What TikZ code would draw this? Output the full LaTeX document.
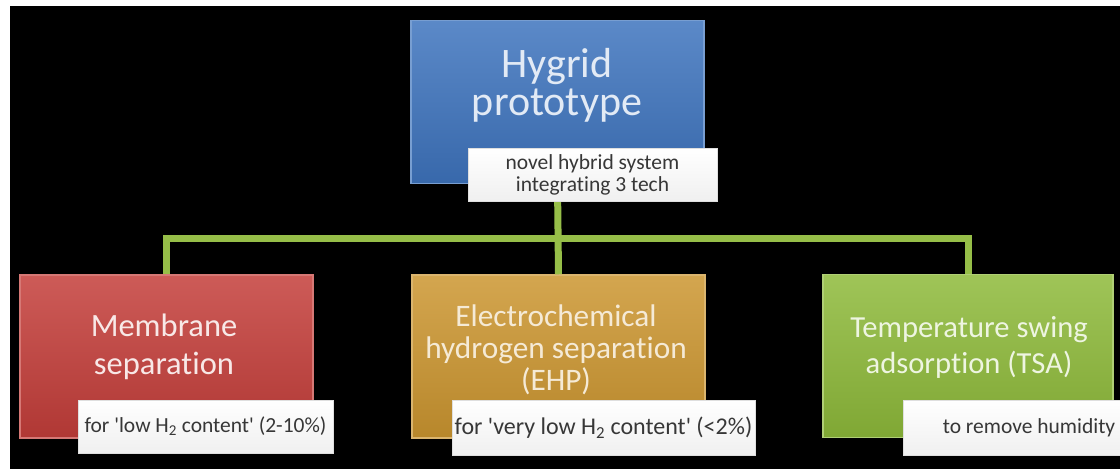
\documentclass[tikz,border=0pt]{standalone}
\usepackage{fontspec}
\setmainfont[Ligatures = NoCommon]{Carlito}
\definecolor{protoblue}{RGB}{62,116,190}
\definecolor{memred}{RGB}{196,62,58}
\definecolor{ehpgold}{RGB}{204,150,48}
\definecolor{tsagreen}{RGB}{142,186,58}
\definecolor{linkgreen}{RGB}{150,190,72}
\definecolor{notetext}{RGB}{55,55,55}

\tikzset{
    box/.style = {rectangle, minimum width = 293pt, minimum height = 163pt, inner sep = 0pt, line width = 1.5pt},
    boxtext/.style = {align = center, inner sep = 0pt, font = \fontsize{31.5}{36}\selectfont},
    note/.style = {rectangle, top color = white, bottom color = gray!12, draw = gray!25,
        line width = 1pt, inner sep = 0pt, align = center, text = notetext,
        font = \fontsize{21.5}{22}\selectfont},
    link/.style = {draw = linkgreen, line width = 7pt},
}

\begin{document}
\begin{tikzpicture}[x = 1pt, y = -1pt]
    \useasboundingbox (0, 0) rectangle (1120, 469);
    \fill [white] (0, 0) rectangle (1120, 469);
    \fill [black] (10, 6) rectangle (1120, 469);

    \node [box, top color = protoblue!85!white, bottom color = protoblue!90!black, draw = protoblue!70!white] (proto) at (557.5, 102) {};
    \node [box, top color = memred!85!white, bottom color = memred!90!black, draw = memred!70!white] (membrane) at (166.5, 356.5) {};
    \node [box, top color = ehpgold!85!white, bottom color = ehpgold!90!black, draw = ehpgold!70!white] (ehp) at (558.5, 356.5) {};
    \node [box, top color = tsagreen!85!white, bottom color = tsagreen!90!black, draw = tsagreen!70!white, minimum width = 290pt] (tsa) at (968, 356) {};

    \coordinate (bus) at (557, 238);
    \draw [link] (proto.south) -- (ehp.north);
    \draw [link] (membrane.north) |- (bus) -| (tsa.north);

    \node [boxtext, text = white!85!protoblue, font = \fontsize{42}{38}\selectfont] (protoText) at (557, 85) {Hygrid\\prototype};
    \node [boxtext, text = white!88!memred, font = \fontsize{32.5}{38.5}\selectfont] (membraneText) at (164, 347) {Membrane\\separation};
    \node [boxtext, text = white!80!ehpgold, font = \fontsize{31.3}{32}\selectfont] (ehpText) at (556, 350) {Electrochemical\\hydrogen separation\\(EHP)};
    \node [boxtext, text = white!85!tsagreen, font = \fontsize{30.6}{36}\selectfont] (tsaText) at (969, 347) {Temperature swing\\adsorption (TSA)};

    \node [note, minimum width = 249pt, minimum height = 53pt] (protoNote) at (592.5, 174.5) {novel hybrid system\\integrating 3 tech};
    \node [note, minimum width = 255pt, minimum height = 53pt] (membraneNote) at (205.5, 426.5) {for \textquotesingle low H\textsubscript{2} content\textquotesingle{} (2-10\%)};
    \node [note, minimum width = 303pt, minimum height = 55pt, font = \fontsize{24}{24}\selectfont] (ehpNote) at (603.5, 427.5) {for \textquotesingle very low H\textsubscript{2} content\textquotesingle{} (<2\%)};
    \node [note, minimum width = 252pt, minimum height = 55pt] (tsaNote) at (1029, 427.5) {to remove humidity};
\end{tikzpicture}
\end{document}
